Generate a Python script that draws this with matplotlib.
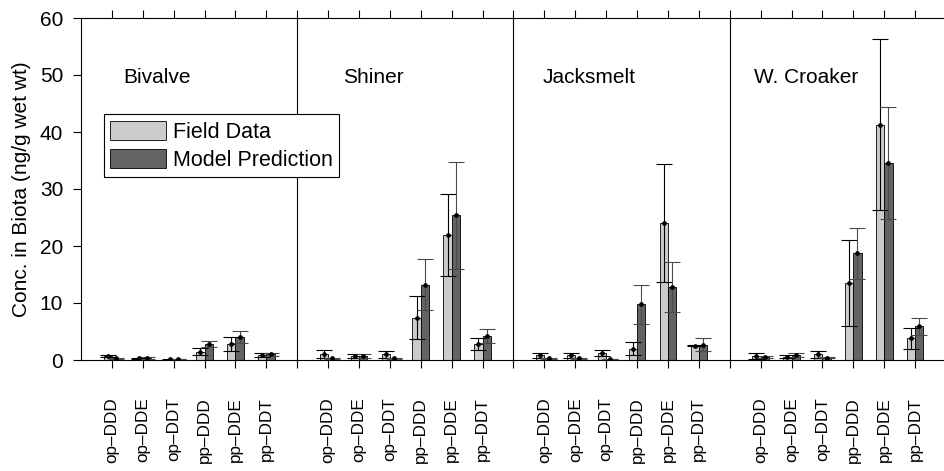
import matplotlib
matplotlib.use('Agg')
import matplotlib.pyplot as plt
import numpy as np

plt.rcParams['font.family'] = ['Liberation Sans', 'DejaVu Sans']

compounds = ['op\u2013DDD', 'op\u2013DDE', 'op\u2013DDT', 'pp\u2013DDD', 'pp\u2013DDE', 'pp\u2013DDT']
species = ['Bivalve', 'Shiner', 'Jacksmelt', 'W. Croaker']

# field data (mean, error) per species
field_bivalve = [0.7, 0.3, 0.15, 1.45, 2.8, 0.9]
field_shiner = [1.0, 0.7, 1.0, 7.4, 22.0, 2.8]
field_jacksmelt = [0.8, 0.8, 1.2, 2.0, 24.0, 2.5]
field_croaker = [0.7, 0.6, 1.0, 13.5, 41.3, 3.8]

field_err_bivalve = [0.25, 0.1, 0.1, 0.65, 1.2, 0.4]
field_err_shiner = [0.7, 0.3, 0.6, 3.8, 7.2, 1.1]
field_err_jacksmelt = [0.4, 0.4, 0.5, 1.2, 10.4, 0.1]
field_err_croaker = [0.5, 0.3, 0.6, 7.5, 15.0, 1.9]

# model predictions
model_bivalve = [0.3, 0.4, 0.15, 2.8, 4.1, 1.0]
model_shiner = [0.3, 0.7, 0.3, 13.2, 25.4, 4.2]
model_jacksmelt = [0.3, 0.3, 0.2, 9.8, 12.8, 2.7]
model_croaker = [0.5, 0.9, 0.4, 18.7, 34.5, 5.9]

model_err_bivalve = [0.1, 0.15, 0.05, 0.6, 1.05, 0.3]
model_err_shiner = [0.1, 0.3, 0.1, 4.5, 9.4, 1.2]
model_err_jacksmelt = [0.1, 0.1, 0.05, 3.4, 4.4, 1.1]
model_err_croaker = [0.2, 0.4, 0.1, 4.5, 9.8, 1.5]

field = [field_bivalve, field_shiner, field_jacksmelt, field_croaker]
field_err = [field_err_bivalve, field_err_shiner, field_err_jacksmelt, field_err_croaker]
model = [model_bivalve, model_shiner, model_jacksmelt, model_croaker]
model_err = [model_err_bivalve, model_err_shiner, model_err_jacksmelt, model_err_croaker]

label_x = [1.36, 1.48, 0.94, 0.8]

light = '#cbcbcb'
dark = '#636363'
w = 0.27
fs = 15

fig = plt.figure(figsize=(9.45, 4.71), dpi=100)
ax = fig.add_axes([81/945, 1-360/471, 865/945, 342/471])

ticks = []
ticklabels = []
for g in range(4):
    start = g*7
    x = np.arange(1, 7) + start
    fb = ax.bar(x - w/2, field[g], w, color=light, edgecolor='black', linewidth=0.6, zorder=2)
    mb = ax.bar(x + w/2, model[g], w, color=dark, edgecolor='black', linewidth=0.6, zorder=2)
    ax.errorbar(x - w/2, field[g], yerr=field_err[g], fmt='none', ecolor='black',
                elinewidth=0.8, capsize=5.6, capthick=0.8, zorder=3)
    ax.errorbar(x + w/2, model[g], yerr=model_err[g], fmt='none', ecolor='#4a4a4a',
                elinewidth=0.8, capsize=5.6, capthick=0.8, zorder=3)
    ax.plot(x - w/2, field[g], 'o', color='black', ms=2.4, zorder=4)
    ax.plot(x + w/2, model[g], 'o', color='black', ms=2.4, zorder=4)
    ax.text(start + label_x[g], 48.6, species[g], fontsize=fs, va='baseline', ha='left')
    ticks += list(x)
    ticklabels += compounds
    if g < 3:
        ax.axvline(start + 7, color='black', lw=0.8, zorder=1)
        ticks.append(start + 7)
        ticklabels.append('')

ax.set_xlim(0, 28)
ax.set_ylim(0, 60)
ax.set_yticks(np.arange(0, 61, 10))
ax.set_xticks(ticks)
ax.set_xticklabels(ticklabels, rotation=90, fontsize=12.3)
ax.tick_params(axis='y', direction='out', length=5.8, width=0.8, labelsize=fs, pad=7)
ax.tick_params(axis='x', direction='out', length=5.8, width=0.8, pad=21, top=True, labeltop=False)
ax.spines['right'].set_visible(False)
for s in ['left', 'top', 'bottom']:
    ax.spines[s].set_linewidth(0.8)

ax.set_ylabel('Conc. in Biota (ng/g wet wt)', fontsize=fs)
ax.yaxis.set_label_coords(-0.058, 0.5)

leg = ax.legend([fb, mb], ['Field Data', 'Model Prediction'], loc='upper left',
                bbox_to_anchor=(0.0266, 0.719), fontsize=15.5, fancybox=False,
                edgecolor='black', framealpha=1, borderpad=0.3, labelspacing=0.3,
                handlelength=2.6, handleheight=1.0, handletextpad=0.3, borderaxespad=0)
leg.get_frame().set_linewidth(0.8)

fig.savefig('out.png', dpi=100)
